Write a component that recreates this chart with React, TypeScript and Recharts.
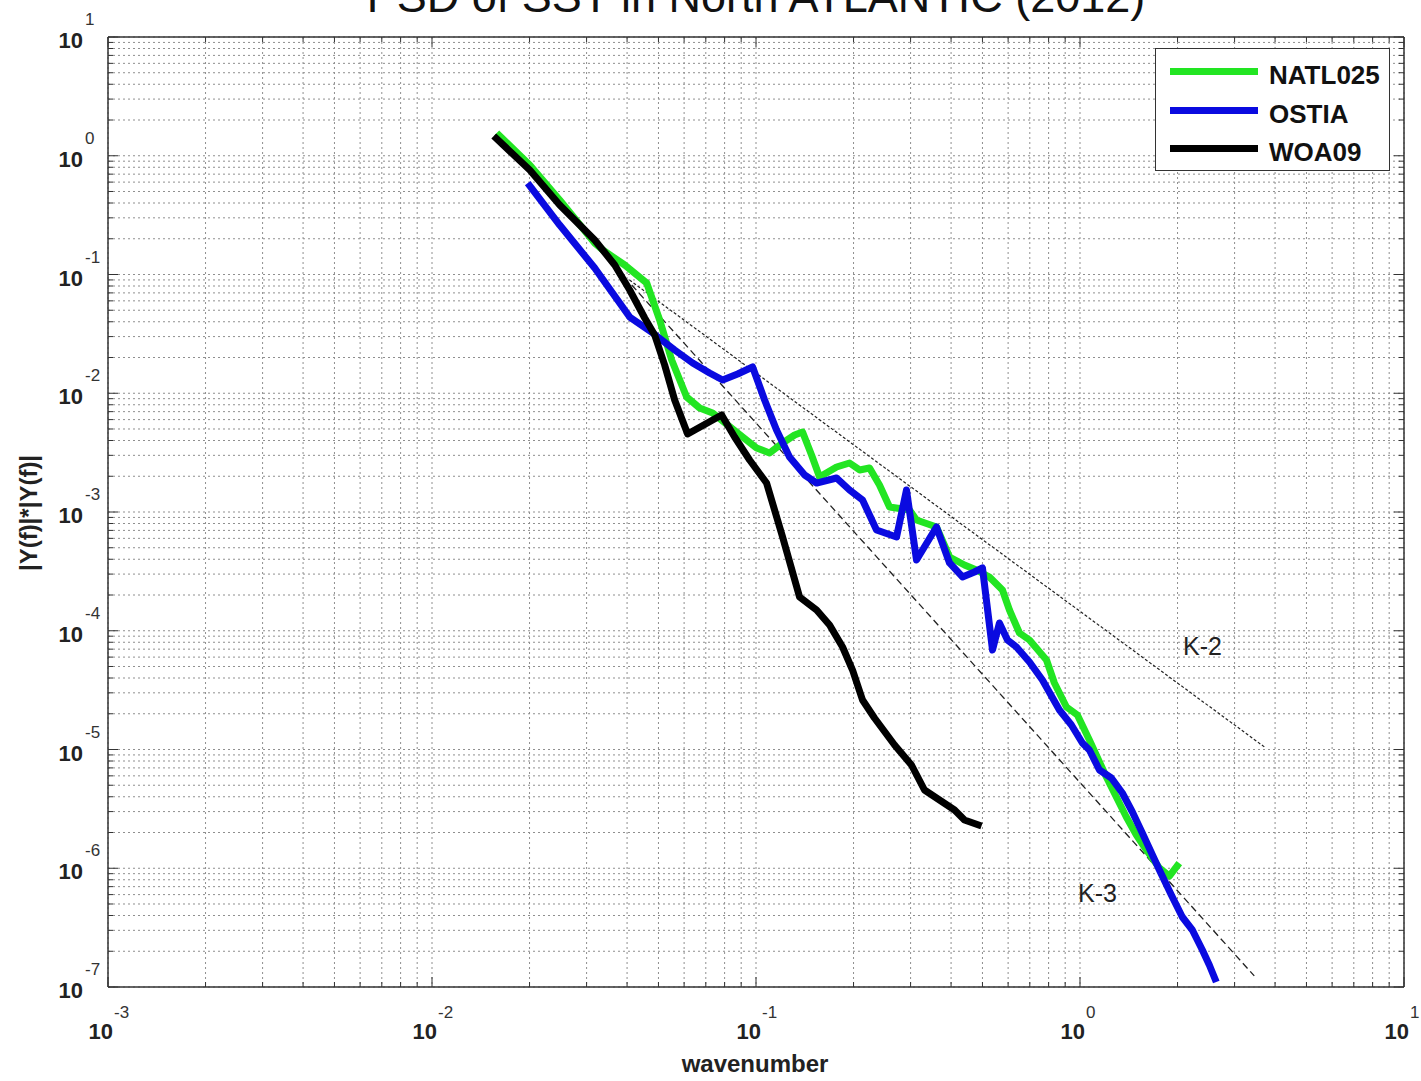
import React from "react"
import { LineChart, Line, XAxis, YAxis, CartesianGrid, Legend } from "recharts"

const FONT = "'Liberation Sans', Arial, Helvetica, sans-serif"

// PSD curves (wavenumber, |Y(f)|*|Y(f)|)
const natlK = [
  0.01584, 0.02003, 0.02478, 0.03178, 0.03363, 0.03933, 0.04599, 0.05043, 0.05492, 0.06108,
  0.06699, 0.07346, 0.08176, 0.09094, 0.1004, 0.1101, 0.1208, 0.1316, 0.1392, 0.1484,
  0.1571, 0.1773, 0.1944, 0.2088, 0.2241, 0.2405, 0.2583, 0.2977, 0.3129, 0.3606,
  0.3957, 0.44, 0.479, 0.5253, 0.5762, 0.6057, 0.6503, 0.6983, 0.7881, 0.8337,
  0.9081, 0.9817, 1.069, 1.206, 1.39, 1.493, 1.603, 1.758, 1.887, 2.025,
]
const natlPsd = [
  1.554, 0.8357, 0.424, 0.1842, 0.1609, 0.1202, 0.08479, 0.04138, 0.01905, 0.009299,
  0.007511, 0.00682, 0.005402, 0.004281, 0.003458, 0.00314, 0.003811, 0.00445, 0.004717, 0.00302,
  0.001971, 0.002393, 0.002586, 0.002258, 0.002347, 0.001688, 0.001102, 0.001039, 0.0008565, 0.0007478,
  0.0004179, 0.0003578, 0.0003247, 0.0002836, 0.0002203, 0.0001495, 9.574e-5, 8.358e-5, 5.671e-5, 3.631e-5,
  2.28e-5, 1.952e-5, 1.202e-5, 5.867e-6, 2.702e-6, 1.905e-6, 1.425e-6, 1.005e-6, 8.604e-7, 1.107e-6,
]

const ostiaK = [
  0.01974, 0.02478, 0.03178, 0.04075, 0.04799, 0.0561, 0.06375, 0.07192, 0.07889, 0.08776,
  0.09761, 0.1063, 0.1157, 0.1269, 0.1413, 0.1538, 0.1773, 0.1944, 0.2132, 0.2355,
  0.2715, 0.2914, 0.3129, 0.3606, 0.3957, 0.4338, 0.4723, 0.5, 0.537, 0.564,
  0.5972, 0.6365, 0.6983, 0.7656, 0.864, 0.9408, 1.017, 1.069, 1.148, 1.25,
  1.351, 1.451, 1.557, 1.758, 1.914, 2.069, 2.222, 2.386, 2.507, 2.634,
]
const ostiaPsd = [
  0.5895, 0.2611, 0.1134, 0.04385, 0.03217, 0.02313, 0.01797, 0.01481, 0.01293, 0.01452,
  0.01664, 0.008774, 0.004903, 0.002905, 0.002049, 0.001754, 0.001934, 0.001532, 0.001262, 0.0007055,
  0.0006159, 0.001532, 0.0003943, 0.0007478, 0.0003721, 0.0002836, 0.0003124, 0.0003377, 6.887e-5, 0.0001162,
  8.358e-5, 7.298e-5, 5.454e-5, 3.849e-5, 2.151e-5, 1.608e-5, 1.134e-5, 9.903e-6, 6.722e-6, 5.754e-6,
  4.303e-6, 2.977e-6, 1.98e-6, 9.667e-7, 5.952e-7, 3.886e-7, 3.02e-7, 2.049e-7, 1.532e-7, 1.102e-7,
]

const woaK = [
  0.01551, 0.02003, 0.02478, 0.03178, 0.03664, 0.04075, 0.04534, 0.04867, 0.05225, 0.0561,
  0.06152, 0.07832, 0.0859, 0.09557, 0.1078, 0.1208, 0.1363, 0.1538, 0.1687, 0.185,
  0.1986, 0.2132, 0.2321, 0.2677, 0.3019, 0.3311, 0.3684, 0.41, 0.44, 0.4966,
]
const woaPsd = [
  1.467, 0.7586, 0.3848, 0.1952, 0.1202, 0.07406, 0.04302, 0.03094, 0.01729, 0.008774,
  0.004537, 0.006559, 0.004281, 0.002741, 0.001754, 0.0006159, 0.0001924, 0.0001495, 0.0001118, 7.298e-5,
  4.67e-5, 2.611e-5, 1.842e-5, 1.091e-5, 7.405e-6, 4.56e-6, 3.755e-6, 3.094e-6, 2.549e-6, 2.269e-6,
]

// reference slopes
const k2K = [0.0407, 3.71]
const k2Psd = [0.0899, 1.05e-5]
const k3K = [0.04133, 3.45]
const k3Psd = [0.0816, 1.24e-7]

const seriesNames = ["NATL025", "OSTIA", "WOA09"]

// log axis ticks (1..9 per decade)
const mantissas = [1, 2, 3, 4, 5, 6, 7, 8, 9]
const xDecades = [-3, -2, -1, 0]
const yDecades = [-7, -6, -5, -4, -3, -2, -1, 0]
const xTicks = [...xDecades.flatMap((d) => mantissas.map((m) => m * Math.pow(10, d))), 10]
const yTicks = [...yDecades.flatMap((d) => mantissas.map((m) => m * Math.pow(10, d))), 10]

const toPoints = (k: number[], psd: number[]) => k.map((x, i) => ({ x, y: psd[i] }))

const natlData = toPoints(natlK, natlPsd)
const ostiaData = toPoints(ostiaK, ostiaPsd)
const woaData = toPoints(woaK, woaPsd)
const k2Data = toPoints(k2K, k2Psd)
const k3Data = toPoints(k3K, k3Psd)

const AXIS = "#333"

function isMajor(v: number) {
  const lg = Math.log10(v)
  return Math.abs(lg - Math.round(lg)) < 1e-6
}

function XTick(props: any) {
  const { x, y, payload, side } = props
  const v = payload.value
  const major = isMajor(v)
  const len = major ? 10 : 5
  if (side === "top") {
    return <line x1={x} x2={x} y1={y} y2={y + len} stroke={AXIS} strokeWidth={1} />
  }
  const e = Math.round(Math.log10(v))
  return (
    <g>
      <line x1={x} x2={x} y1={y} y2={y - len} stroke={AXIS} strokeWidth={1} />
      {major && (
        <>
          <text x={x + 5} y={y + 52} textAnchor="end" fontSize={22} fontWeight="bold" fill="#222" fontFamily={FONT}>
            10
          </text>
          <text x={x + 6} y={y + 31} textAnchor="start" fontSize={17} fill="#333" fontFamily={FONT}>
            {e}
          </text>
        </>
      )}
    </g>
  )
}

function YTick(props: any) {
  const { x, y, payload, side } = props
  const v = payload.value
  const major = isMajor(v)
  const len = major ? 10 : 5
  if (side === "right") {
    return <line x1={x} x2={x - len} y1={y} y2={y} stroke={AXIS} strokeWidth={1} />
  }
  const e = Math.round(Math.log10(v))
  return (
    <g>
      <line x1={x} x2={x + len} y1={y} y2={y} stroke={AXIS} strokeWidth={1} />
      {major && (
        <>
          <text x={x - 25} y={y + 11} textAnchor="end" fontSize={22} fontWeight="bold" fill="#222" fontFamily={FONT}>
            10
          </text>
          <text x={x - 23} y={y - 12} textAnchor="start" fontSize={17} fill="#333" fontFamily={FONT}>
            {e}
          </text>
        </>
      )}
    </g>
  )
}

function renderLegend(props: any) {
  const items = (props.payload || []).filter((p: any) => seriesNames.includes(p.value))
  items.sort((a: any, b: any) => seriesNames.indexOf(a.value) - seriesNames.indexOf(b.value))
  return (
    <div
      style={{
        position: "relative",
        width: 235,
        height: 123,
        boxSizing: "border-box",
        border: "1.5px solid #333",
        background: "#fff",
        fontFamily: FONT,
      }}
    >
      {items.map((entry: any, i: number) => (
        <React.Fragment key={entry.value}>
          <div
            style={{
              position: "absolute",
              left: 14,
              top: 19 + i * 38.5,
              width: 88,
              height: 7,
              background: entry.color,
            }}
          />
          <div
            style={{
              position: "absolute",
              left: 113,
              top: 13 + i * 38.5,
              fontSize: 26,
              lineHeight: "26px",
              fontWeight: "bold",
              color: "#111",
              whiteSpace: "nowrap",
            }}
          >
            {entry.value}
          </div>
        </React.Fragment>
      ))}
    </div>
  )
}

export default function App() {
  const axisLine = { stroke: AXIS, strokeWidth: 1.5 }
  return (
    <div style={{ position: "absolute", left: 0, top: 0, width: 1421, height: 1081, background: "#fff" }}>
      <LineChart width={1421} height={1081} margin={{ top: 36, right: 16, bottom: 93, left: 107 }}>
        <CartesianGrid stroke="#8f8f8f" strokeDasharray="2 3" strokeWidth={1} />
        <XAxis
          type="number"
          dataKey="x"
          scale="log"
          domain={[0.001, 10]}
          allowDataOverflow
          ticks={xTicks}
          interval={0}
          height={1}
          tickSize={0}
          tickMargin={0}
          tickLine={false}
          axisLine={axisLine}
          tick={<XTick side="bottom" />}
        />
        <XAxis
          xAxisId="top"
          orientation="top"
          type="number"
          dataKey="x"
          scale="log"
          domain={[0.001, 10]}
          allowDataOverflow
          ticks={xTicks}
          interval={0}
          height={1}
          tickSize={0}
          tickMargin={0}
          tickLine={false}
          axisLine={axisLine}
          tick={<XTick side="top" />}
        />
        <YAxis
          type="number"
          dataKey="y"
          scale="log"
          domain={[1e-7, 10]}
          allowDataOverflow
          ticks={yTicks}
          interval={0}
          width={1}
          tickSize={0}
          tickMargin={0}
          tickLine={false}
          axisLine={axisLine}
          tick={<YTick side="left" />}
        />
        <YAxis
          yAxisId="right"
          orientation="right"
          type="number"
          dataKey="y"
          scale="log"
          domain={[1e-7, 10]}
          allowDataOverflow
          ticks={yTicks}
          interval={0}
          width={1}
          tickSize={0}
          tickMargin={0}
          tickLine={false}
          axisLine={axisLine}
          tick={<YTick side="right" />}
        />
        <Line
          data={k2Data}
          dataKey="y"
          name="K-2"
          type="linear"
          stroke="#222"
          strokeWidth={1.2}
          strokeDasharray="3 2"
          dot={false}
          legendType="none"
          isAnimationActive={false}
        />
        <Line
          data={k3Data}
          dataKey="y"
          name="K-3"
          type="linear"
          stroke="#222"
          strokeWidth={1.3}
          strokeDasharray="7 4"
          dot={false}
          legendType="none"
          isAnimationActive={false}
        />
        <Line
          data={natlData}
          dataKey="y"
          name="NATL025"
          type="linear"
          stroke="#22e522"
          strokeWidth={7}
          strokeLinejoin="round"
          dot={false}
          isAnimationActive={false}
        />
        <Line
          data={ostiaData}
          dataKey="y"
          name="OSTIA"
          type="linear"
          stroke="#0a0ae0"
          strokeWidth={7}
          strokeLinejoin="round"
          dot={false}
          isAnimationActive={false}
        />
        <Line
          data={woaData}
          dataKey="y"
          name="WOA09"
          type="linear"
          stroke="#000"
          strokeWidth={7}
          strokeLinejoin="round"
          dot={false}
          isAnimationActive={false}
        />
        <Legend
          layout="vertical"
          align="center"
          verticalAlign="middle"
          wrapperStyle={{ position: "absolute", left: 1155, top: 48, width: 235, height: 123 }}
          content={renderLegend}
        />
      </LineChart>
      <svg
        width={1421}
        height={1081}
        style={{ position: "absolute", left: 0, top: 0, pointerEvents: "none" }}
        fontFamily={FONT}
      >
        <text x={756} y={12} textAnchor="middle" fontSize={45} fill="#111">
          PSD of SST in North ATLANTIC (2012)
        </text>
        <text x={755} y={1072} textAnchor="middle" fontSize={24} fontWeight="bold" fill="#222">
          wavenumber
        </text>
        <text transform="translate(37,513) rotate(-90)" textAnchor="middle" fontSize={24} fontWeight="bold" fill="#222">
          |Y(f)|*|Y(f)|
        </text>
        <text x={1183} y={655} fontSize={25} fill="#222">
          K-2
        </text>
        <text x={1078} y={902} fontSize={25} fill="#222">
          K-3
        </text>
      </svg>
    </div>
  )
}
